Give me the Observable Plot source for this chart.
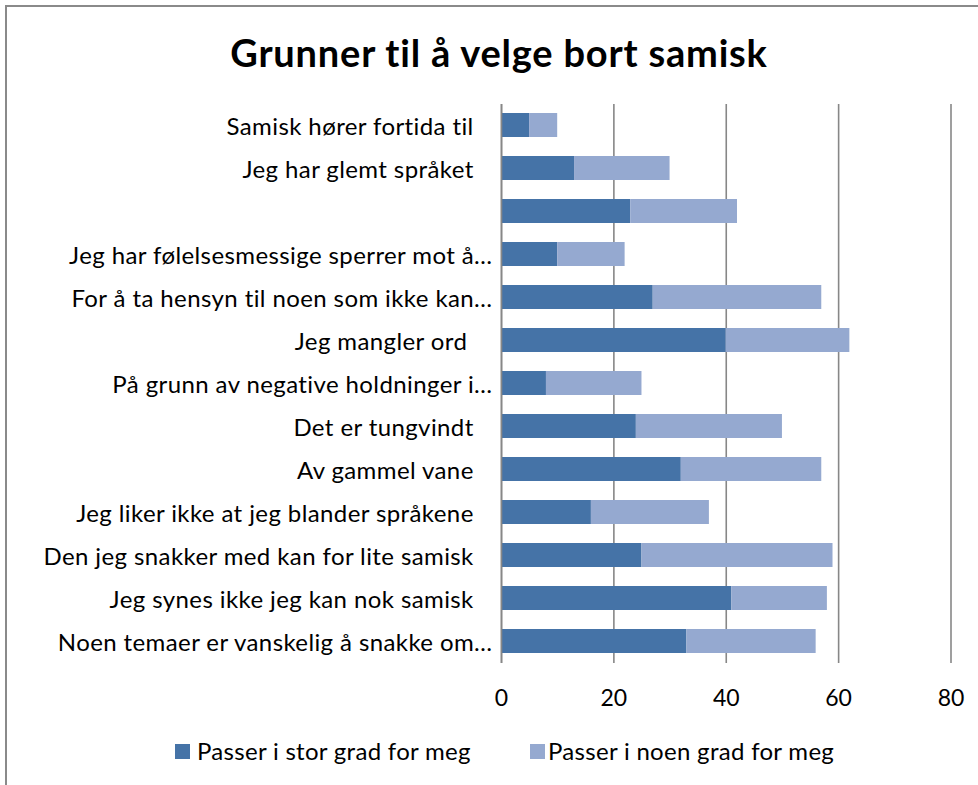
<!DOCTYPE html>
<html>
<head>
<meta charset="utf-8">
<script src="https://cdn.jsdelivr.net/npm/d3@7"></script>
<script src="https://cdn.jsdelivr.net/npm/@observablehq/plot@0.6"></script>
<style>
  html, body { margin: 0; padding: 0; background: #fff; }
  body { width: 978px; height: 785px; position: relative; overflow: hidden; font-family: Lato, "Liberation Sans", sans-serif; }
  #frame { position: absolute; left: 5px; top: 5px; width: 1000px; height: 800px; border-top: 2px solid #8a8a8a; border-left: 2px solid #8a8a8a; }
  #title { position: absolute; left: 0; top: 27px; width: 998px; text-align: center; font-weight: bold; font-size: 38px; letter-spacing: 0.8px; line-height: 50px; color: #000; }
  #chart { position: absolute; left: 0; top: 0; }
  #legend { position: absolute; top: 736px; left: 0; width: 978px; height: 30px; font-size: 24px; letter-spacing: 0.3px; color: #000; }
  .item { position: absolute; top: 0; line-height: 30px; white-space: nowrap; }
  .sw { position: absolute; top: 8px; width: 15px; height: 15px; }
  #chart svg g[aria-label="y-axis tick label"] text { letter-spacing: 0.4px; }
</style>
</head>
<body>
<div id="frame"></div>
<div id="title">Grunner til å velge bort samisk</div>
<div id="chart"></div>
<div id="legend"></div>
<script>
const categories = [
  "Samisk hører fortida til",
  "Jeg har glemt språket",
  "",
  "Jeg har følelsesmessige sperrer mot å…",
  "For å ta hensyn til noen som ikke kan…",
  "Jeg mangler ord ",
  "På grunn av negative holdninger i…",
  "Det er tungvindt",
  "Av gammel vane",
  "Jeg liker ikke at jeg blander språkene",
  "Den jeg snakker med kan for lite samisk",
  "Jeg synes ikke jeg kan nok samisk",
  "Noen temaer er vanskelig å snakke om…"
];
const series = ["Passer i stor grad for meg", "Passer i noen grad for meg"];
const storGrad = [5, 13, 23, 10, 27, 40, 8, 24, 32, 16, 25, 41, 33];
const noenGrad = [5, 17, 19, 12, 30, 22, 17, 26, 25, 21, 34, 17, 23];
const xTicks = [0, 20, 40, 60, 80];
const colors = ["#4573A7", "#95A9D0"];

const rows = categories.flatMap((c, i) => [
  {cat: c, series: series[0], value: storGrad[i]},
  {cat: c, series: series[1], value: noenGrad[i]}
]);

const fmtLabel = d => d.endsWith("…") ? d : d.replace(/ $/, "\u2005") + "\u2002\u2005";

const chart = Plot.plot({
  width: 978,
  height: 720,
  marginTop: 104,
  marginBottom: 57,
  marginLeft: 501,
  marginRight: 27.5,
  style: {fontFamily: "Lato, 'Liberation Sans', sans-serif", fontSize: "22px", color: "#000", background: "transparent"},
  x: {domain: [0, 80]},
  y: {domain: categories, paddingInner: 0.44, paddingOuter: 0.22},
  color: {domain: series, range: colors},
  marks: [
    Plot.gridX(xTicks, {stroke: "#878787", strokeOpacity: 1, strokeWidth: 1.6}),
    Plot.barX(rows, Plot.stackX({y: "cat", x: "value", fill: "series"})),
    Plot.ruleX([0], {stroke: "#878787", strokeWidth: 1.6}),
    Plot.axisX(xTicks, {tickSize: 0, tickPadding: 26, fontSize: 23, fill: "#000", label: null}),
    Plot.axisY({tickSize: 0, tickPadding: 9, fontSize: 24, fill: "#000", label: null, dy: 2, tickFormat: fmtLabel})
  ]
});
document.getElementById("chart").appendChild(chart);

const legendPos = [[175, 197], [530, 548]];
const legend = document.getElementById("legend");
series.forEach((s, i) => {
  const sw = document.createElement("div");
  sw.className = "sw";
  sw.style.left = legendPos[i][0] + "px";
  sw.style.background = colors[i];
  legend.appendChild(sw);
  const t = document.createElement("div");
  t.className = "item";
  t.style.left = legendPos[i][1] + "px";
  t.textContent = s;
  legend.appendChild(t);
});
</script>
</body>
</html>
